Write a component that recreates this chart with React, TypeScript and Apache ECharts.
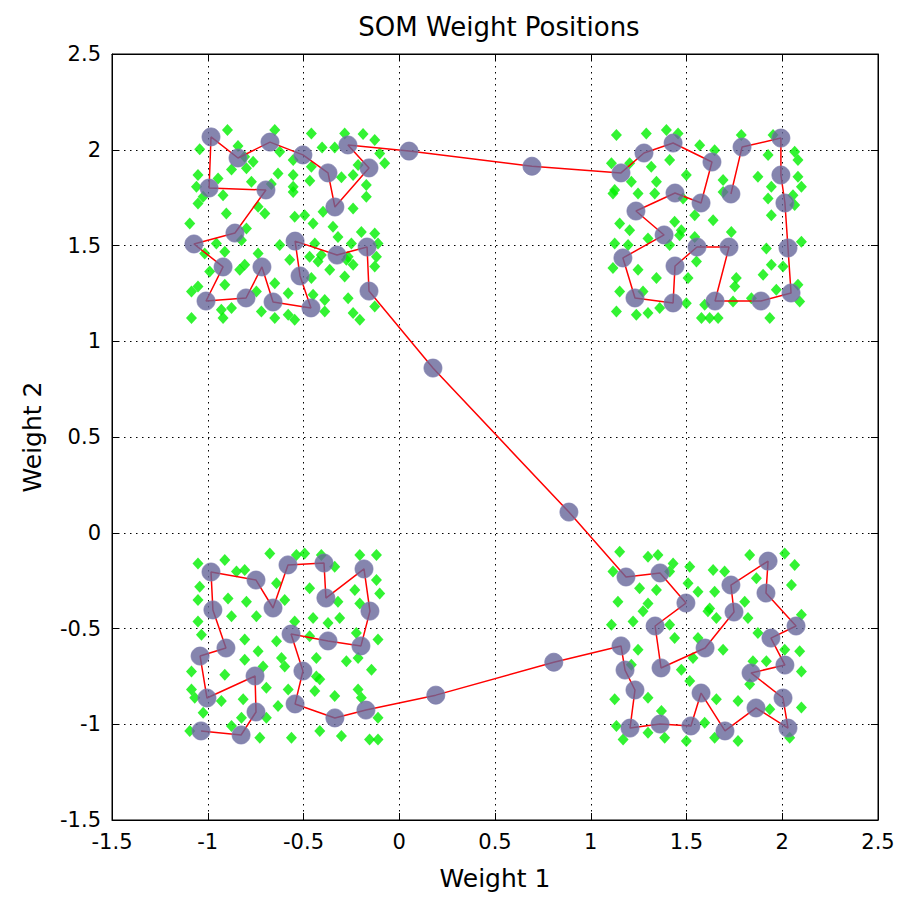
import React, { useEffect, useRef } from "react";
import * as echarts from "echarts";

// SOM neuron weight positions, in chain order (1-D map of 100 neurons)
const neuronX = [
  1.732, 1.790, 1.993, 1.993, 2.014, 2.030, 2.046, 1.889, 1.649, 1.722,
  1.555, 1.440, 1.430, 1.231, 1.168, 1.383, 1.236, 1.440, 1.576, 1.633,
  1.430, 1.278, 1.158, 0.693, 0.051, -0.268, -0.158, -0.336, -0.372, -0.503,
  -0.675, -0.842, -0.983, -0.993, -0.696, -0.858, -1.072, -0.920, -1.009, -0.800,
  -0.717, -0.659, -0.461, -0.518, -0.544, -0.325, -0.168, -0.158, 0.176, 0.886,
  1.184, 1.362, 1.497, 1.336, 1.367, 1.597, 1.748, 1.732, 1.926, 1.915,
  2.072, 1.941, 2.014, 1.837, 2.004, 2.030, 1.863, 1.701, 1.576, 1.523,
  1.362, 1.205, 1.231, 1.179, 1.158, 0.807, 0.191, -0.174, -0.336, -0.544,
  -0.503, -0.565, -0.372, -0.200, -0.153, -0.184, -0.383, -0.393, -0.581, -0.659,
  -0.748, -0.983, -0.973, -0.905, -1.040, -1.004, -0.753, -0.748, -0.826, -1.035,
];
const neuronY = [
  1.769, 2.014, 2.061, 1.868, 1.722, 1.487, 1.252, 1.210, 1.210, 1.492,
  1.492, 1.393, 1.200, 1.226, 1.435, 1.555, 1.680, 1.774, 1.722, 1.936,
  2.035, 1.983, 1.879, 1.914, 1.993, 2.025, 1.905, 1.701, 1.879, 1.973,
  2.040, 1.957, 2.067, 1.800, 1.790, 1.565, 1.508, 1.388, 1.210, 1.226,
  1.388, 1.205, 1.174, 1.341, 1.523, 1.450, 1.492, 1.262, 0.860, 0.108,
  -0.231, -0.210, -0.367, -0.487, -0.706, -0.602, -0.414, -0.273, -0.148, -0.315,
  -0.487, -0.550, -0.691, -0.732, -0.863, -1.020, -0.915, -1.035, -0.837, -1.009,
  -0.999, -1.020, -0.821, -0.717, -0.591, -0.676, -0.848, -0.926, -0.967, -0.894,
  -0.722, -0.529, -0.565, -0.591, -0.409, -0.189, -0.341, -0.158, -0.168, -0.393,
  -0.247, -0.205, -0.403, -0.602, -0.644, -0.863, -0.748, -0.936, -1.056, -1.035,
];

// Input samples (green), read per cluster
const inputsTopLeft: [number, number][] = [
  [-0.897, 2.103], [-1.042, 2.002], [-0.842, 2.019], [-0.807, 1.964], [-0.763, 1.937],
  [-0.876, 1.897], [-0.798, 1.903], [-0.650, 2.103], [-0.624, 1.990], [-0.554, 1.946],
  [-0.554, 1.868], [-0.633, 1.876], [-0.668, 1.821], [-0.772, 1.833], [-0.946, 1.850],
  [-1.051, 1.868], [-1.059, 1.807], [-0.459, 2.085], [-0.403, 2.012], [-0.337, 2.012],
  [-0.285, 2.085], [-0.189, 2.082], [-0.128, 2.051], [-0.102, 1.981], [-0.459, 1.911],
  [-0.467, 1.838], [-0.302, 1.856], [-0.241, 1.868], [-0.215, 1.920], [-0.172, 1.816],
  [-0.076, 1.929], [-0.554, 1.807], [-1.051, 1.719], [-1.024, 1.754], [-0.920, 1.763],
  [-0.903, 1.667], [-1.094, 1.615], [-0.737, 1.702], [-0.702, 1.667], [-0.798, 1.589],
  [-0.824, 1.528], [-0.955, 1.510], [-0.911, 1.467], [-1.016, 1.458], [-0.624, 1.502],
  [-0.737, 1.458], [-0.554, 1.780], [-0.546, 1.650], [-0.494, 1.658], [-0.450, 1.615],
  [-0.398, 1.676], [-0.346, 1.598], [-0.241, 1.693], [-0.172, 1.754], [-0.320, 1.545],
  [-0.198, 1.571], [-0.128, 1.563], [-0.111, 1.510], [-0.250, 1.510], [-0.441, 1.510],
  [-0.407, 1.450], [-0.468, 1.441], [-0.267, 1.441], [-0.119, 1.441], [-1.085, 1.260],
  [-1.085, 1.121], [-0.990, 1.364], [-0.911, 1.295], [-0.929, 1.164], [-0.920, 1.121],
  [-0.876, 1.173], [-0.833, 1.373], [-0.807, 1.399], [-0.746, 1.260], [-0.650, 1.303],
  [-0.720, 1.156], [-0.650, 1.121], [-0.580, 1.251], [-0.572, 1.425], [-0.580, 1.138],
  [-0.546, 1.112], [-0.459, 1.330], [-0.450, 1.243], [-0.389, 1.216], [-0.389, 1.156],
  [-0.424, 1.417], [-0.363, 1.373], [-0.285, 1.338], [-0.276, 1.425], [-0.241, 1.399],
  [-0.128, 1.390], [-0.267, 1.225], [-0.241, 1.147], [-0.206, 1.112], [-0.128, 1.182],
  [-1.051, 1.286],
];
const inputsTopRight: [number, number][] = [
  [1.134, 2.077], [1.108, 1.929], [1.125, 1.790], [1.203, 1.929], [1.212, 1.833],
  [1.290, 2.085], [1.395, 2.103], [1.456, 2.085], [1.412, 1.946], [1.499, 1.868],
  [1.343, 1.833], [1.316, 1.911], [1.569, 2.024], [1.647, 1.998], [1.691, 1.842],
  [1.786, 2.077], [1.873, 1.859], [1.926, 1.972], [1.952, 2.077], [2.065, 1.990],
  [2.082, 1.946], [2.082, 1.859], [2.100, 1.807], [1.943, 1.807], [1.116, 1.772],
  [1.247, 1.772], [1.334, 1.772], [1.151, 1.615], [1.203, 1.580], [1.125, 1.510],
  [1.195, 1.502], [1.299, 1.537], [1.438, 1.624], [1.473, 1.580], [1.464, 1.554],
  [1.543, 1.658], [1.639, 1.632], [1.412, 1.502], [1.543, 1.545], [1.734, 1.571],
  [1.691, 1.780], [1.926, 1.745], [1.943, 1.658], [2.065, 1.711], [2.056, 1.763],
  [2.100, 1.519], [1.917, 1.484], [1.482, 1.745], [1.116, 1.382], [1.151, 1.260],
  [1.134, 1.156], [1.247, 1.373], [1.343, 1.330], [1.273, 1.260], [1.299, 1.147],
  [1.238, 1.138], [1.360, 1.173], [1.552, 1.417], [1.508, 1.330], [1.499, 1.199],
  [1.578, 1.121], [1.621, 1.121], [1.665, 1.121], [1.595, 1.191], [1.760, 1.330],
  [1.752, 1.286], [1.743, 1.208], [1.839, 1.225], [1.900, 1.347], [1.943, 1.399],
  [1.969, 1.269], [1.935, 1.121], [2.082, 1.295], [2.091, 1.208], [2.004, 1.390],
];
const inputsBottomLeft: [number, number][] = [
  [-1.051, -0.160], [-0.911, -0.142], [-0.850, -0.203], [-0.807, -0.195], [-0.676, -0.108],
  [-0.641, -0.264], [-0.537, -0.116], [-0.494, -0.108], [-0.407, -0.116], [-0.337, -0.177],
  [-0.206, -0.116], [-0.119, -0.116], [-0.119, -0.247], [-0.232, -0.299], [-0.102, -0.317],
  [-1.042, -0.282], [-1.051, -0.351], [-0.894, -0.343], [-0.798, -0.360], [-0.598, -0.351],
  [-0.468, -0.290], [-0.320, -0.360], [-0.206, -0.369], [-1.051, -0.463], [-1.033, -0.532],
  [-0.876, -0.436], [-0.807, -0.558], [-0.737, -0.619], [-0.807, -0.663], [-0.746, -0.436],
  [-0.711, -0.698], [-0.641, -0.567], [-0.546, -0.463], [-0.450, -0.445], [-0.311, -0.445],
  [-0.372, -0.471], [-0.224, -0.524], [-0.111, -0.558], [-0.615, -0.654], [-0.598, -0.698],
  [-0.433, -0.654], [-0.276, -0.671], [-0.215, -0.654], [-0.145, -0.715], [-0.433, -0.750],
  [-1.085, -0.724], [-0.911, -0.741], [-0.468, -0.541], [-1.085, -0.818], [-1.068, -0.861],
  [-1.024, -0.940], [-0.929, -0.879], [-0.815, -0.870], [-0.824, -0.966], [-0.694, -0.809],
  [-0.694, -0.966], [-0.633, -0.905], [-0.580, -0.818], [-0.563, -1.070], [-0.728, -1.070],
  [-0.876, -1.009], [-1.094, -1.035], [-0.441, -0.826], [-0.415, -0.765], [-0.415, -1.035],
  [-0.337, -0.853], [-0.302, -1.061], [-0.215, -0.818], [-0.198, -0.861], [-0.111, -0.966],
  [-0.155, -1.079], [-0.111, -1.079],
];
const inputsBottomRight: [number, number][] = [
  [1.151, -0.099], [1.116, -0.203], [1.299, -0.125], [1.351, -0.116], [1.430, -0.160],
  [1.412, -0.203], [1.255, -0.290], [1.343, -0.299], [1.299, -0.369], [1.142, -0.360],
  [1.517, -0.177], [1.508, -0.264], [1.560, -0.308], [1.639, -0.195], [1.699, -0.203],
  [1.647, -0.308], [1.830, -0.116], [1.865, -0.238], [2.013, -0.108], [2.065, -0.168],
  [2.048, -0.273], [1.804, -0.360], [1.621, -0.395], [1.221, -0.463], [1.108, -0.480],
  [1.273, -0.410], [1.412, -0.480], [1.438, -0.550], [1.247, -0.611], [1.212, -0.689],
  [1.612, -0.410], [1.656, -0.445], [1.560, -0.550], [1.691, -0.611], [1.534, -0.654],
  [1.473, -0.715], [1.821, -0.445], [1.873, -0.524], [1.847, -0.671], [1.917, -0.671],
  [2.013, -0.611], [2.091, -0.619], [2.100, -0.428], [2.100, -0.724], [1.125, -0.870],
  [1.134, -1.009], [1.169, -1.079], [1.299, -0.861], [1.369, -0.931], [1.386, -1.070],
  [1.299, -1.044], [1.517, -0.774], [1.499, -1.087], [1.595, -0.992], [1.656, -0.870],
  [1.647, -1.070], [1.769, -0.879], [1.769, -1.087], [1.830, -0.791], [1.935, -0.922],
  [2.100, -0.913], [2.039, -1.070],
];

const axisMin = -1.5;
const axisMax = 2.5;
const axisStep = 0.5;

const FONT = "DejaVu Sans, Arial, sans-serif";

export default function App() {
  const ref = useRef<HTMLDivElement>(null);
  useEffect(() => {
    document.body.style.margin = "0";
    if (!ref.current) return;
    const chart = echarts.init(ref.current, null, { renderer: "svg" });
    const neurons = neuronX.map((x, i) => [x, neuronY[i]]);
    const inputs = [
      ...inputsTopLeft,
      ...inputsTopRight,
      ...inputsBottomLeft,
      ...inputsBottomRight,
    ];
    const baseAxis = {
      type: "value" as const,
      min: axisMin,
      max: axisMax,
      interval: axisStep,
    };
    const tick = { show: true, inside: true, length: 7, lineStyle: { color: "#000" } };
    const line = { show: true, onZero: false, lineStyle: { color: "#000", width: 1 } };
    const labelStyle = { fontFamily: FONT, fontSize: 21, color: "#000" };
    const nameStyle = { fontFamily: FONT, fontSize: 25, color: "#000" };
    const split = { show: true, lineStyle: { color: "#000", type: [1.5, 4.5], width: 1 } };
    chart.setOption({
      animation: false,
      backgroundColor: "#ffffff",
      title: {
        text: "SOM Weight Positions",
        left: 494,
        top: 9,
        textAlign: "center",
        textStyle: { ...nameStyle, fontSize: 26, fontWeight: "normal" },
      },
      grid: {
        left: 112,
        right: 25,
        top: 54,
        bottom: 79,
        show: true,
        borderColor: "#000",
        borderWidth: 1,
        backgroundColor: "#fff",
      },
      xAxis: [
        {
          ...baseAxis,
          position: "bottom",
          name: "Weight 1",
          nameLocation: "middle",
          nameGap: 46,
          nameTextStyle: nameStyle,
          axisLine: line,
          axisTick: tick,
          axisLabel: { ...labelStyle, margin: 11 },
          splitLine: split,
        },
        {
          ...baseAxis,
          position: "top",
          axisLine: line,
          axisTick: tick,
          axisLabel: { show: false },
          splitLine: { show: false },
        },
      ],
      yAxis: [
        {
          ...baseAxis,
          position: "left",
          name: "Weight 2",
          nameLocation: "middle",
          nameGap: 67,
          nameTextStyle: nameStyle,
          axisLine: line,
          axisTick: tick,
          axisLabel: { ...labelStyle, margin: 11 },
          splitLine: split,
        },
        {
          ...baseAxis,
          position: "right",
          axisLine: line,
          axisTick: tick,
          axisLabel: { show: false },
          splitLine: { show: false },
        },
      ],
      series: [
        {
          type: "scatter",
          xAxisIndex: 0,
          yAxisIndex: 0,
          symbol: "diamond",
          symbolSize: [11, 12],
          itemStyle: { color: "#00f000" },
          data: inputs,
          z: 1,
        },
        {
          type: "line",
          xAxisIndex: 0,
          yAxisIndex: 0,
          showSymbol: false,
          symbol: "none",
          lineStyle: { color: "#ff0000", width: 1.5 },
          data: neurons,
          z: 2,
        },
        {
          type: "scatter",
          xAxisIndex: 0,
          yAxisIndex: 0,
          symbol: "circle",
          symbolSize: 18,
          itemStyle: { color: "#66669a", borderColor: "#7c7cac", borderWidth: 1 },
          data: neurons,
          z: 3,
        },
      ],
    });
    return () => chart.dispose();
  }, []);
  return <div ref={ref} style={{ width: 903, height: 899 }} />;
}
